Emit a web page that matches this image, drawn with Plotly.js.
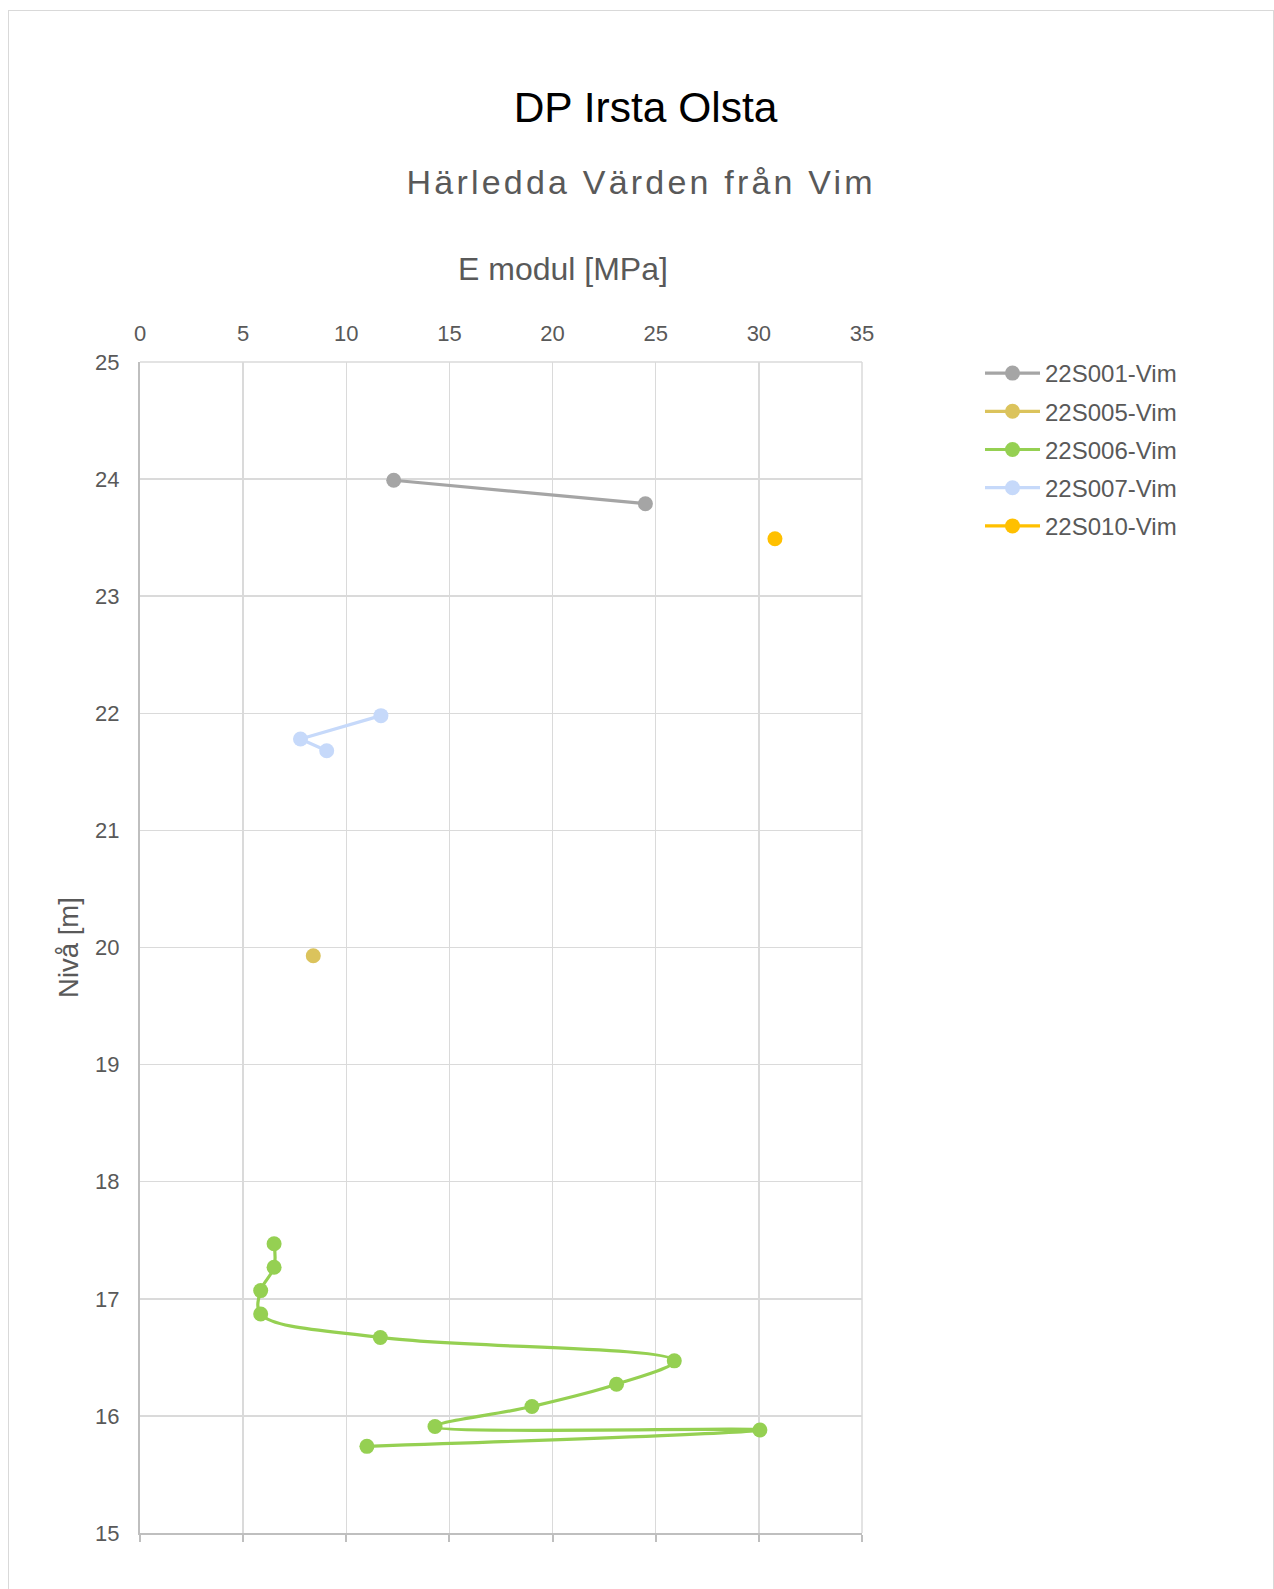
<!DOCTYPE html>
<html>
<head>
<meta charset="utf-8">
<script src="https://cdn.plot.ly/plotly-3.0.1.min.js"></script>
<style>
  html, body { margin: 0; padding: 0; background: #ffffff; }
  #wrap { position: relative; width: 1274px; height: 1589px; overflow: hidden; }
  #chart { position: absolute; left: 0; top: 0; width: 1274px; height: 1589px; }
  #frame { position: absolute; left: 8px; top: 10px; width: 1264px; height: 1700px;
           border: 1px solid #d9d9d9; pointer-events: none; }
  .annotation[data-index="0"] text { letter-spacing: 3.2px; }
</style>
</head>
<body>
<div id="wrap">
  <div id="chart"></div>
  <div id="frame"></div>
</div>
<script>
// ---- data (E modul [MPa] vs Nivå [m]) ----
const seriesNames = ['22S001-Vim', '22S005-Vim', '22S006-Vim', '22S007-Vim', '22S010-Vim'];

const s001_E = [12.3, 24.5];
const s001_Niva = [23.99, 23.79];

const s005_E = [8.4];
const s005_Niva = [19.93];

const s006_E = [6.5, 6.5, 5.85, 5.85, 11.65, 25.9, 23.1, 19.0, 14.3, 30.05, 11.0];
const s006_Niva = [17.47, 17.27, 17.07, 16.87, 16.67, 16.47, 16.27, 16.08, 15.91, 15.88, 15.74];

const s007_E = [11.68, 7.78, 9.05];
const s007_Niva = [21.98, 21.78, 21.68];

const s010_E = [30.78];
const s010_Niva = [23.49];

const xTicks = [0, 5, 10, 15, 20, 25, 30, 35];
const yTicks = [15, 16, 17, 18, 19, 20, 21, 22, 23, 24, 25];

const colors = ['#A5A5A5', '#DBC35C', '#95D052', '#C6D9FA', '#FFC000'];
const xs = [s001_E, s005_E, s006_E, s007_E, s010_E];
const ys = [s001_Niva, s005_Niva, s006_Niva, s007_Niva, s010_Niva];
const shapes = ['linear', 'linear', 'spline', 'linear', 'linear'];
const xAxisOf = ['x', 'x', 'x', 'x', 'x2'];

const traces = seriesNames.map((name, i) => ({
  type: 'scatter',
  mode: 'lines+markers',
  name: name,
  legendgroup: 'g' + i,
  x: xs[i],
  y: ys[i],
  line: { color: colors[i], width: 3.2, shape: shapes[i], smoothing: 1 },
  marker: { color: colors[i], size: 15, symbol: 'circle' },
  xaxis: xAxisOf[i],
  yaxis: 'y'
}));

const W = 1274, H = 1589;
const L = 140, R = 862.5, T = 362, B = 1533.4;
const xRange = [0, 35];
const yRange = [15, 25];
const gridColor = '#dadada';

const layout = {
  width: W,
  height: H,
  paper_bgcolor: 'rgba(0,0,0,0)',
  plot_bgcolor: '#ffffff',
  font: { family: '"Liberation Sans", Arial, sans-serif', color: '#595959' },
  margin: { l: L, r: W - R, t: T, b: H - B, autoexpand: false },
  showlegend: true,
  title: {
    text: 'DP Irsta Olsta',
    font: { size: 42.5, color: '#000000', family: '"Liberation Sans", Arial, sans-serif' },
    x: 645.5 / W, xref: 'container', xanchor: 'center',
    y: 1 - 107 / H, yref: 'container', yanchor: 'middle'
  },
  xaxis: {
    side: 'top',
    range: xRange,
    tickvals: xTicks,
    ticktext: xTicks.map(String),
    showgrid: true, gridcolor: gridColor, gridwidth: 1.5,
    zeroline: false, showline: false,
    ticks: '',
    ticklabelstandoff: 16,
    tickfont: { size: 22, color: '#595959' },
    fixedrange: true
  },
  xaxis2: {
    overlaying: 'x',
    matches: 'x',
    anchor: 'y',
    side: 'bottom',
    range: xRange,
    tickvals: xTicks,
    showticklabels: false,
    showgrid: false, zeroline: false,
    showline: true, linecolor: '#bfbfbf', linewidth: 2,
    ticks: 'outside', ticklen: 7, tickwidth: 2, tickcolor: '#bfbfbf'
  },
  yaxis: {
    range: yRange,
    tickvals: yTicks,
    ticktext: yTicks.map(String),
    showgrid: true, gridcolor: gridColor, gridwidth: 1.5,
    zeroline: false,
    showline: true, linecolor: '#bfbfbf', linewidth: 2,
    ticks: '',
    ticklabelstandoff: 14,
    tickfont: { size: 22, color: '#595959' },
    title: { text: 'Nivå [m]', font: { size: 27.5, color: '#595959' }, standoff: 8 }
  },
  shapes: [
    { type: 'line', xref: 'paper', yref: 'paper', x0: 0, x1: 1, y0: 1, y1: 1,
      line: { color: gridColor, width: 1.5 }, layer: 'below' },
    { type: 'line', xref: 'paper', yref: 'paper', x0: 1, x1: 1, y0: 0, y1: 1,
      line: { color: gridColor, width: 1.5 }, layer: 'below' }
  ],
  legend: {
    xref: 'container', yref: 'container',
    x: 980 / W, y: 1 - 351 / H,
    xanchor: 'left', yanchor: 'top',
    font: { size: 24, color: '#595959' },
    itemwidth: 55,
    tracegroupgap: 4,
    bgcolor: 'rgba(0,0,0,0)'
  },
  annotations: [
    {
      text: 'Härledda Värden från Vim',
      xref: 'paper', yref: 'paper',
      x: (641 - L) / (R - L), y: (B - 182) / (B - T),
      xanchor: 'center', yanchor: 'middle',
      showarrow: false,
      font: { size: 34, color: '#595959' }
    },
    {
      text: 'E modul [MPa]',
      xref: 'paper', yref: 'paper',
      x: (563.5 - L) / (R - L), y: (B - 269) / (B - T),
      xanchor: 'center', yanchor: 'middle',
      showarrow: false,
      font: { size: 32, color: '#595959' }
    }
  ]
};

Plotly.newPlot('chart', traces, layout, { staticPlot: true, displayModeBar: false });
</script>
</body>
</html>
